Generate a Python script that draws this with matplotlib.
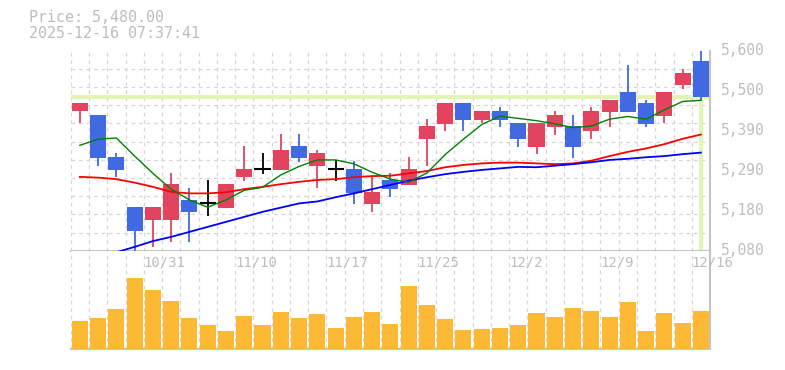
import numpy as np
import matplotlib
matplotlib.use('Agg')
import matplotlib.pyplot as plt
import matplotlib.transforms as mtransforms

#daily OHLC, 10/27 .. 12/16
opens = [5442, 5433, 5324, 5194, 5160, 5160, 5212, 5203, 5192, 5272,
         5292, 5291, 5352, 5300, 5292, 5292, 5201, 5264, 5252, 5371,
         5410, 5465, 5420, 5443, 5413, 5350, 5402, 5404, 5392, 5441,
         5493, 5465, 5430, 5512, 5574]
highs = [5465, 5433, 5335, 5194, 5194, 5281, 5244, 5264, 5253, 5352,
         5333, 5383, 5383, 5342, 5316, 5313, 5274, 5283, 5324, 5422,
         5465, 5465, 5443, 5454, 5413, 5413, 5444, 5433, 5454, 5472,
         5563, 5472, 5493, 5553, 5600]
lows = [5411, 5301, 5272, 5080, 5090, 5102, 5102, 5171, 5192, 5262,
        5280, 5291, 5311, 5242, 5262, 5201, 5181, 5220, 5252, 5300,
        5392, 5392, 5411, 5402, 5350, 5331, 5381, 5320, 5370, 5402,
        5441, 5402, 5411, 5500, 5470]
closes = [5465, 5322, 5291, 5132, 5194, 5253, 5181, 5203, 5253, 5292,
          5292, 5342, 5322, 5333, 5292, 5231, 5233, 5240, 5292, 5404,
          5465, 5420, 5443, 5420, 5371, 5413, 5433, 5350, 5444, 5472,
          5441, 5410, 5493, 5543, 5480]
volumes = [85, 94, 121, 214, 178, 145, 94, 73, 55, 100,
           73, 112, 94, 106, 64, 97, 112, 76, 190, 133,
           91, 58, 61, 64, 73, 109, 97, 124, 115, 97,
           142, 55, 109, 79, 115]

#moving averages
ma_short = [5354, 5370, 5373, 5326, 5281, 5240, 5212, 5193, 5212, 5237,
            5245, 5277, 5299, 5316, 5316, 5306, 5284, 5266, 5258, 5282,
            5330, 5370, 5408, 5430, 5424, 5418, 5410, 5400, 5404, 5422,
            5429, 5422, 5446, 5468, 5471]
ma_mid = [5272, 5270, 5266, 5257, 5246, 5233, 5229, 5229, 5232, 5240,
          5246, 5253, 5259, 5264, 5266, 5271, 5274, 5275, 5281, 5287,
          5297, 5303, 5307, 5309, 5309, 5307, 5305, 5307, 5314, 5326,
          5337, 5346, 5357, 5371, 5382]
ma_long = [np.nan, np.nan, 5076, 5090, 5105, 5116, 5129, 5142, 5155, 5168,
           5181, 5192, 5203, 5208, 5219, 5229, 5240, 5251, 5262, 5271,
           5279, 5285, 5290, 5294, 5298, 5297, 5301, 5305, 5310, 5316,
           5319, 5323, 5326, 5331, 5335]

date_labels = {4: '10/31', 9: '11/10', 14: '11/17', 19: '11/25',
               24: '12/2', 29: '12/9', 34: '12/16'}
ytick_vals = np.linspace(5080, 5600, 6)
ytick_labels = ['5,080', '5,180', '5,290', '5,390', '5,500', '5,600']
last_price = 5480

RED = '#e2445f'
BLUE = '#4169e1'
GRID = '#d6d6d6'
TXT = '#bdbdbd'
MONO = 'DejaVu Sans Mono'

n = len(closes)
x = np.arange(n)

fig = plt.figure(figsize=(7.85, 3.7), dpi=100)
ax = fig.add_axes([0.0901, 0.3224, 0.8144, 0.5406])
axv = fig.add_axes([0.0901, 0.0559, 0.8144, 0.2665])

for a in (ax, axv):
    a.set_xlim(-0.5, n - 0.5)
    a.set_xticks(np.arange(n + 1) - 0.5, minor=True)
    a.set_xticks([])
    a.grid(which='minor', axis='x', color=GRID, linestyle=(0, (3, 3)), lw=0.9)
    a.tick_params(which='both', length=0)
    for side in ('top', 'left'):
        a.spines[side].set_visible(False)
    for side in ('bottom', 'right'):
        a.spines[side].set_color('#c4c4c4')
        a.spines[side].set_linewidth(1.5)
    a.set_axisbelow(True)

#price panel
ax.set_ylim(5080, 5600)
ax.set_yticks(np.linspace(5080, 5600, 12), minor=True)
ax.grid(which='minor', axis='y', color=GRID, linestyle=(0, (3, 3)), lw=0.9)
ax.set_yticks(ytick_vals)
ax.set_yticklabels(ytick_labels)
ax.yaxis.tick_right()
ax.tick_params(axis='y', which='major', pad=8, labelsize=10.5, labelcolor=TXT)
for lbl in ax.get_yticklabels():
    lbl.set_family(MONO)
    lbl.set_va('center')

ax.axhline(last_price, color='#e4f4b4', lw=3, zorder=1)
ax.vlines(n - 1, 5080, last_price, color='#e4f4b4', lw=3, zorder=1)

for i in range(n):
    o, h, l, c = opens[i], highs[i], lows[i], closes[i]
    if c > o:
        col = RED
    elif c < o:
        col = BLUE
    else:
        col = 'black'
    ax.vlines(x[i], l, h, color=col, lw=1.3, zorder=3)
    if c == o:
        ax.hlines(c, x[i] - 0.44, x[i] + 0.44, color=col, lw=1.5, zorder=4)
    else:
        ax.bar(x[i], abs(c - o), bottom=min(o, c), width=0.88, color=col, zorder=4)

ax.plot(x, ma_mid, color='#ff0000', lw=1.3, zorder=5)
ax.plot(x, ma_long, color='#0000ff', lw=1.3, zorder=5)
ax.plot(x, ma_short, color='#008000', lw=1.0, zorder=5)

#volume panel
axv.bar(x, volumes, width=0.88, color='#fdb933', zorder=3)
axv.set_ylim(0, 296)
axv.set_yticks([])
trans = mtransforms.blended_transform_factory(axv.transData, axv.transAxes)
for i, lab in date_labels.items():
    axv.text(i - 0.5, 0.885, lab, transform=trans, ha='left', va='center',
             fontsize=10, color=TXT, family=MONO, zorder=6)

fig.text(29 / 785, 1 - 18 / 370, 'Price: 5,480.00', ha='left', va='center',
         fontsize=10.8, color=TXT, family=MONO)
fig.text(29 / 785, 1 - 33 / 370, '2025-12-16 07:37:41', ha='left', va='center',
         fontsize=10.8, color=TXT, family=MONO)

fig.savefig('out.png', dpi=100)
